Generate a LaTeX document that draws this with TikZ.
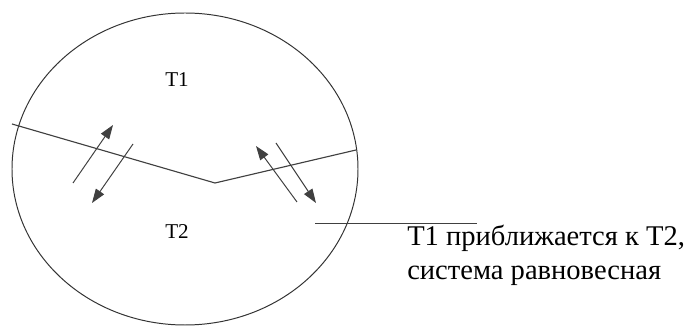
\documentclass[tikz,border=0pt]{standalone}
\usepackage{fontspec}
\setmainfont{Liberation Serif}
\newfontfamily\notefont{Liberation Serif}
\usetikzlibrary{arrows.meta}
\tikzset{
    flow/.style={-{Triangle[length=10pt,width=7pt]}, draw=black!75, line width=0.7pt},
    part/.style={font=\notefont\fontsize{15}{18}\selectfont}
}

\begin{document}
\begin{tikzpicture}[x=0.025cm, y=-0.025cm]
    \useasboundingbox (0,0) rectangle (686,327);

    % Vessel
    \draw[line width=0.7pt, black!80] (185,169) ellipse [x radius=173, y radius=156];

    % Interface between the two parts
    \coordinate (wl) at (12,124);
    \coordinate (wm) at (215,183);
    \coordinate (wr) at (356,150);
    \draw[line width=0.8pt, black!75] (wl) -- (wm) -- (wr);

    \node[part] (t1) at (177,80) {T1};
    \node[part] (t2) at (177,232) {T2};

    % Exchange, left side
    \coordinate (a1) at (73,183);  \coordinate (b1) at (113,125);
    \coordinate (a2) at (133,144); \coordinate (b2) at (92,203);
    \draw[flow] (a1) -- (b1);
    \draw[flow] (a2) -- (b2);

    % Exchange, right side
    \coordinate (a3) at (297,202); \coordinate (b3) at (256,146);
    \coordinate (a4) at (276,143); \coordinate (b4) at (316,203);
    \draw[flow] (a3) -- (b3);
    \draw[flow] (a4) -- (b4);

    % Caption
    \node[anchor=base west, align=left, font=\notefont\fontsize{20.3}{24.8}\selectfont, inner sep=0pt] (note) at (407,280)
        {T1 приближается к T2,\\система равновесная};
    \coordinate (p0) at (315,223);
    \coordinate (p1) at (477,223);
    \draw[line width=0.6pt, black!75] (p0) -- (p1);
\end{tikzpicture}
\end{document}
